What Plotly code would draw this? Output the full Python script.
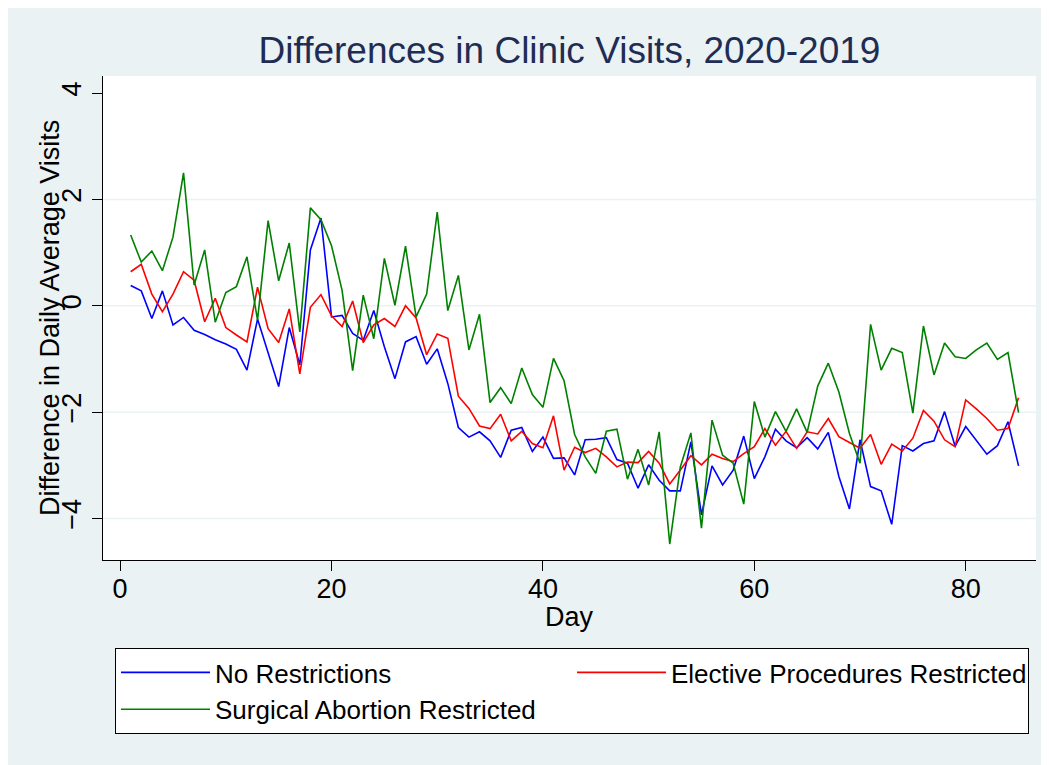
import plotly.graph_objects as go

days = list(range(1, 86))

no_restrictions = [
    0.38, 0.28, -0.24, 0.28, -0.36, -0.22, -0.46, -0.54, -0.64, -0.72,
    -0.82, -1.21, -0.25, -0.88, -1.52, -0.41, -1.11, 1.05, 1.65, -0.21,
    -0.18, -0.52, -0.65, -0.09, -0.77, -1.37, -0.68, -0.58, -1.10, -0.81,
    -1.46, -2.29, -2.47, -2.37, -2.54, -2.85, -2.34, -2.29, -2.74, -2.47,
    -2.87, -2.86, -3.18, -2.52, -2.51, -2.48, -2.89, -2.96, -3.43, -2.99,
    -3.28, -3.48, -3.48, -2.56, -3.93, -3.01, -3.37, -3.09, -2.45, -3.25,
    -2.84, -2.32, -2.54, -2.67, -2.48, -2.69, -2.38, -3.21, -3.82, -2.52,
    -3.40, -3.48, -4.11, -2.63, -2.73, -2.59, -2.54, -1.99, -2.64, -2.27,
    -2.52, -2.79, -2.63, -2.18, -3.01,
]

elective_restricted = [
    0.64, 0.78, 0.22, -0.11, 0.22, 0.64, 0.48, -0.30, 0.14, -0.41,
    -0.55, -0.68, 0.35, -0.43, -0.69, -0.06, -1.28, -0.03, 0.21, -0.19,
    -0.39, 0.09, -0.69, -0.36, -0.24, -0.39, 0.00, -0.23, -0.92, -0.53,
    -0.61, -1.70, -1.93, -2.26, -2.31, -2.04, -2.54, -2.36, -2.59, -2.67,
    -2.07, -3.09, -2.66, -2.76, -2.68, -2.84, -3.03, -2.94, -2.95, -2.74,
    -2.96, -3.35, -3.09, -2.82, -2.99, -2.79, -2.87, -2.93, -2.78, -2.65,
    -2.31, -2.62, -2.36, -2.68, -2.37, -2.41, -2.12, -2.46, -2.57, -2.68,
    -2.42, -2.98, -2.60, -2.73, -2.49, -1.97, -2.17, -2.52, -2.65, -1.77,
    -1.94, -2.12, -2.34, -2.31, -1.73,
]

surgical_restricted = [
    1.33, 0.82, 1.03, 0.66, 1.29, 2.50, 0.39, 1.05, -0.31, 0.25,
    0.36, 0.92, -0.27, 1.60, 0.47, 1.18, -0.49, 1.84, 1.62, 1.13,
    0.29, -1.22, 0.20, -0.62, 0.89, 0.01, 1.12, -0.21, 0.22, 1.76,
    -0.09, 0.57, -0.83, -0.16, -1.82, -1.54, -1.84, -1.17, -1.67, -1.91,
    -0.99, -1.41, -2.42, -2.84, -3.15, -2.36, -2.32, -3.26, -2.70, -3.37,
    -2.37, -4.48, -3.03, -2.39, -4.18, -2.15, -2.81, -2.96, -3.73, -1.80,
    -2.47, -1.99, -2.36, -1.94, -2.38, -1.51, -1.08, -1.62, -2.40, -2.96,
    -0.35, -1.21, -0.80, -0.88, -2.02, -0.38, -1.30, -0.70, -0.96, -0.99,
    -0.83, -0.70, -1.01, -0.88, -2.01,
]

y_ticks = [-4, -2, 0, 2, 4]
grid_lines = [-4, -2, 0, 2]
x_ticks = [0, 20, 40, 60, 80]

font = "Liberation Sans, Arial, sans-serif"
bg = "#EAF2F3"

# page has an 8px body margin, so the figure is 8px smaller than the window
W, H = 1041, 757
ml, mt, pw, ph = 95, 68, 933, 484

fig = go.Figure()
fig.add_trace(go.Scatter(x=days, y=no_restrictions, mode="lines", name="No Restrictions",
                         line=dict(color="#0000FF", width=1.6)))
fig.add_trace(go.Scatter(x=days, y=elective_restricted, mode="lines", name="Elective Procedures Restricted",
                         line=dict(color="#FF0000", width=1.6)))
fig.add_trace(go.Scatter(x=days, y=surgical_restricted, mode="lines", name="Surgical Abortion Restricted",
                         line=dict(color="#008000", width=1.6)))

for g in grid_lines:
    fig.add_shape(type="line", xref="paper", x0=0, x1=1, yref="y", y0=g, y1=g,
                  line=dict(color=bg, width=1.5), layer="below")

fig.update_layout(
    width=W, height=H,
    margin=dict(l=ml, r=W - ml - pw, t=mt, b=H - mt - ph, autoexpand=False),
    paper_bgcolor=bg, plot_bgcolor="white",
    font=dict(family=font, size=27, color="black"),
    title=dict(text="Differences in Clinic Visits, 2020-2019", x=0.5, xref="paper",
               y=1 - 42 / H, yanchor="middle",
               font=dict(size=37, color="#1F2D55")),
    showlegend=True,
    legend=dict(orientation="h", x=12 / pw, y=-88 / ph, xanchor="left", yanchor="top",
                bgcolor="white", bordercolor="black", borderwidth=1,
                entrywidth=352, entrywidthmode="pixels", itemwidth=89,
                font=dict(size=26, color="black")),
    annotations=[
        dict(text="Difference in Daily Average Visits", textangle=-90, xref="paper", yref="paper",
             x=-53 / pw, y=0.5, showarrow=False, xanchor="center", yanchor="middle",
             font=dict(size=27)),
        dict(text="Day", xref="paper", yref="paper", x=0.5, y=-57 / ph,
             showarrow=False, xanchor="center", yanchor="middle", font=dict(size=27)),
    ],
)

fig.update_xaxes(range=[-1.62, 86.65], tickvals=x_ticks, showgrid=False, zeroline=False,
                 showline=True, linecolor="black", linewidth=1,
                 ticks="outside", ticklen=10, tickcolor="black", ticklabelstandoff=-5)
fig.update_yaxes(range=[-4.78, 4.32], tickvals=y_ticks, tickangle=-90, showgrid=False, zeroline=False,
                 showline=True, linecolor="black", linewidth=1,
                 ticks="outside", ticklen=10, tickcolor="black", ticklabelstandoff=0)

fig.write_html("out.html")
